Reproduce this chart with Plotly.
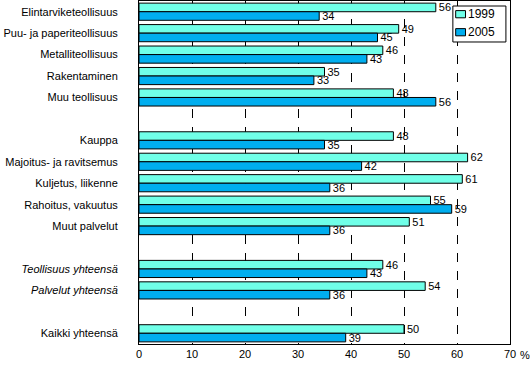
import plotly.graph_objects as go

categories = [
    "Elintarviketeollisuus", "Puu- ja paperiteollisuus", "Metalliteollisuus",
    "Rakentaminen", "Muu teollisuus", " ",
    "Kauppa", "Majoitus- ja ravitsemus", "Kuljetus, liikenne",
    "Rahoitus, vakuutus", "Muut palvelut", "  ",
    "Teollisuus yhteensä", "Palvelut yhteensä", "   ",
    "Kaikki yhteensä",
]
tick_text = [
    "Elintarviketeollisuus", "Puu- ja paperiteollisuus", "Metalliteollisuus",
    "Rakentaminen", "Muu teollisuus", "",
    "Kauppa", "Majoitus- ja ravitsemus", "Kuljetus, liikenne",
    "Rahoitus, vakuutus", "Muut palvelut", "",
    "<i>Teollisuus yhteensä</i>", "<i>Palvelut yhteensä</i>", "",
    "Kaikki yhteensä",
]
series_names = ["1999", "2005"]
values_1999 = [56, 49, 46, 35, 48, None, 48, 62, 61, 55, 51, None, 46, 54, None, 50]
values_2005 = [34, 45, 43, 33, 56, None, 35, 42, 36, 59, 36, None, 43, 36, None, 39]
x_ticks = [0, 10, 20, 30, 40, 50, 60, 70]

FONT = "Liberation Sans, Arial, sans-serif"
COLORS = ["#70FFE8", "#00AEEF"]

fig = go.Figure()
for name, vals, color in zip(series_names, [values_1999, values_2005], COLORS):
    fig.add_trace(go.Bar(
        name=name, y=categories, x=vals, orientation="h",
        marker=dict(color=color, line=dict(color="black", width=1)),
        text=[("" if v is None else str(v)) for v in vals],
        textposition="outside", constraintext="none", cliponaxis=False,
        textfont=dict(family=FONT, size=11, color="black"),
        hoverinfo="skip", showlegend=False,
    ))

fig.update_layout(
    width=530, height=366,
    margin=dict(l=139, r=20, t=1, b=22),
    barmode="group", bargap=0.2, bargroupgap=0,
    plot_bgcolor="white", paper_bgcolor="white",
    font=dict(family=FONT, size=11, color="black"),
    showlegend=False,
    xaxis=dict(
        range=[0, 70], tickvals=x_ticks, ticktext=[str(t) for t in x_ticks],
        showgrid=True, gridcolor="black", griddash="dash", gridwidth=1,
        zeroline=False, showline=True, linecolor="black", linewidth=1, mirror=True,
        ticks="", tickfont=dict(size=11),
    ),
    yaxis=dict(
        type="category", categoryorder="array", categoryarray=categories,
        autorange="reversed", tickvals=categories, ticktext=tick_text,
        showgrid=False, zeroline=False, showline=True, linecolor="black",
        linewidth=1, mirror=True, ticks="", ticklabelstandoff=18,
        tickfont=dict(size=11),
    ),
)
fig.add_annotation(text="%", xref="paper", yref="paper", x=1.0, y=0, xshift=15, yshift=-3,
                   yanchor="top", xanchor="center", showarrow=False, font=dict(size=11))

# legend box (drawn in paper coordinates)
fig.add_shape(type="rect", xref="paper", yref="paper", x0=0.846, x1=0.989, y0=0.8805, y1=0.9854,
              line=dict(color="black", width=1), fillcolor="white", layer="above")
for i, (name, color) in enumerate(zip(series_names, COLORS)):
    yc = 0.9615 - i * 0.0525
    fig.add_shape(type="rect", xref="paper", yref="paper", x0=0.8536, x1=0.8801,
                  y0=yc - 0.0105, y1=yc + 0.0105,
                  line=dict(color="black", width=1), fillcolor=color, layer="above")
    fig.add_annotation(text=name, xref="paper", yref="paper", x=0.8819, y=yc,
                       xanchor="left", yanchor="middle", showarrow=False,
                       font=dict(size=12))

fig.write_html("out.html", config={"displayModeBar": False},
               post_script="document.body.style.margin='0';")
